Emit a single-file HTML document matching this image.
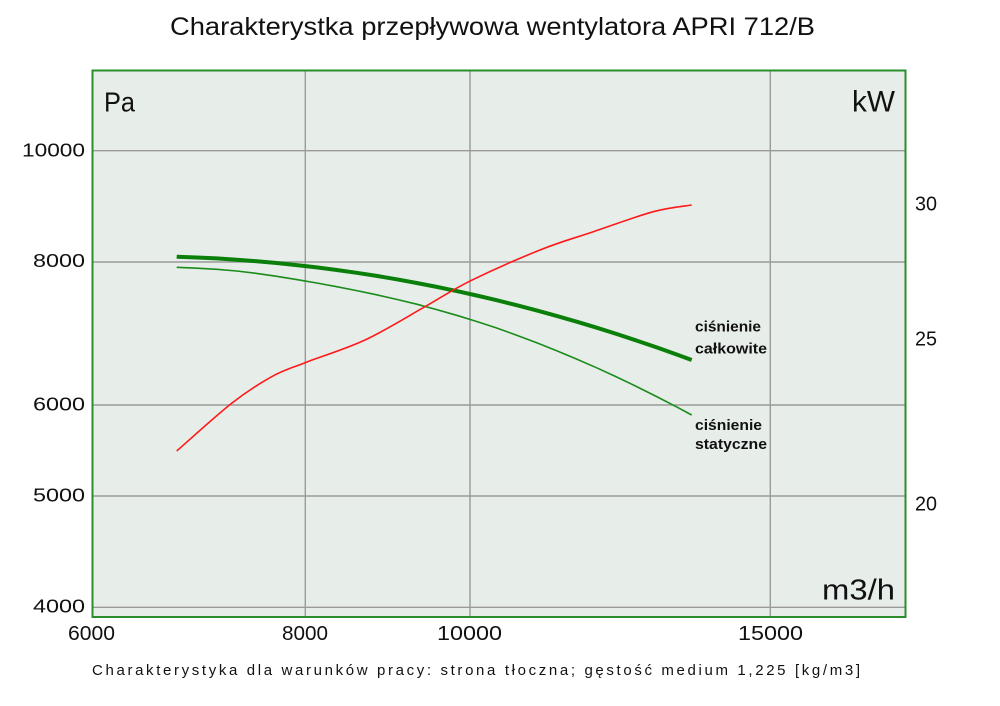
<!DOCTYPE html>
<html><head><meta charset="utf-8"><style>
html,body{margin:0;padding:0;background:#fff;}
svg{display:block;}
text{font-family:"Liberation Sans",sans-serif;fill:#111;}
</style></head><body>
<svg width="1000" height="706" viewBox="0 0 1000 706" xmlns="http://www.w3.org/2000/svg">
<rect x="0" y="0" width="1000" height="706" fill="#ffffff"/>
<text x="170" y="35" font-size="25" textLength="645" lengthAdjust="spacingAndGlyphs">Charakterystka przepływowa wentylatora APRI 712/B</text>
<rect x="92.5" y="70.5" width="813" height="546.5" fill="#e7ede9"/>
<g stroke="#9a9a9a" stroke-width="1.4" fill="none">
<line x1="93" y1="150.7" x2="905" y2="150.7"/>
<line x1="93" y1="262" x2="905" y2="262"/>
<line x1="93" y1="405" x2="905" y2="405"/>
<line x1="93" y1="496" x2="905" y2="496"/>
<line x1="93" y1="607.3" x2="905" y2="607.3"/>
<line x1="305.3" y1="71" x2="305.3" y2="617"/>
<line x1="470" y1="71" x2="470" y2="617"/>
<line x1="770.3" y1="71" x2="770.3" y2="617"/>
</g>
<rect x="92.5" y="70.5" width="813" height="546.5" fill="none" stroke="#2a8f2a" stroke-width="2"/>
<g font-size="18.5" text-anchor="end">
<text x="85" y="156.7" textLength="63" lengthAdjust="spacingAndGlyphs">10000</text>
<text x="85" y="267" textLength="52" lengthAdjust="spacingAndGlyphs">8000</text>
<text x="85" y="410.7" textLength="52" lengthAdjust="spacingAndGlyphs">6000</text>
<text x="85" y="501.7" textLength="52" lengthAdjust="spacingAndGlyphs">5000</text>
<text x="85" y="612.7" textLength="52" lengthAdjust="spacingAndGlyphs">4000</text>
</g>
<g font-size="20">
<text x="915" y="210.7" textLength="22" lengthAdjust="spacingAndGlyphs">30</text>
<text x="915" y="345.5" textLength="22" lengthAdjust="spacingAndGlyphs">25</text>
<text x="915" y="510.5" textLength="22" lengthAdjust="spacingAndGlyphs">20</text>
</g>
<g font-size="20.5">
<text x="68" y="640" textLength="47" lengthAdjust="spacingAndGlyphs">6000</text>
<text x="282" y="640" textLength="46" lengthAdjust="spacingAndGlyphs">8000</text>
<text x="437" y="640" textLength="65" lengthAdjust="spacingAndGlyphs">10000</text>
<text x="738" y="640" textLength="65" lengthAdjust="spacingAndGlyphs">15000</text>
</g>
<text x="104" y="111.7" font-size="28" textLength="31" lengthAdjust="spacingAndGlyphs">Pa</text>
<text x="852" y="111.7" font-size="30" textLength="43" lengthAdjust="spacingAndGlyphs">kW</text>
<text x="822" y="599.3" font-size="29" textLength="73" lengthAdjust="spacingAndGlyphs">m3/h</text>
<text x="92" y="675" font-size="15" textLength="768" lengthAdjust="spacing">Charakterystyka dla warunków pracy: strona tłoczna; gęstość medium 1,225 [kg/m3]</text>
<g fill="none" stroke-linejoin="round" stroke-linecap="butt">
<polyline stroke="#0a7f0a" stroke-width="4" points="176.7,256.7 196.7,257.5 216.7,258.4 236.7,259.7 256.7,261.2 276.7,263.0 296.7,265.1 316.7,267.4 336.7,270.0 356.7,272.8 376.7,275.9 396.7,279.3 416.7,283.0 436.7,286.9 456.7,291.1 476.7,295.5 496.7,300.2 516.7,305.2 536.7,310.4 556.7,315.9 576.7,321.7 596.7,327.7 616.7,334.0 636.7,340.6 656.7,347.4 676.7,354.5 691.7,360"/>
<polyline stroke="#1a8c1a" stroke-width="1.6" points="176.7,267.3 196.7,268.2 216.7,269.3 236.7,271.0 256.7,273.4 276.7,276.3 296.7,279.6 316.7,283.0 336.7,286.7 356.7,290.6 376.7,294.8 396.7,299.4 416.7,304.2 436.7,309.6 456.7,315.3 476.7,321.5 496.7,328.0 516.7,335.2 536.7,342.7 556.7,350.7 576.7,359.1 596.7,367.8 616.7,377.0 636.7,386.6 656.7,396.6 676.7,406.9 691.7,415"/>
<path stroke="#ff1a1a" stroke-width="1.6" d="M176.7,451 C185.9,443.1 215.9,415.7 231.7,403.3 C247.5,390.9 259.5,383.5 271.7,376.7 C283.9,369.9 289.5,368.8 305,362.7 C320.6,356.6 345,349.3 365,340 C385,330.7 407.4,316.6 425,306.7 C442.6,296.8 451.5,290.2 470.7,280.7 C489.9,271.3 519.6,258.2 540,250 C560.4,241.8 574.4,238.1 593.3,231.7 C612.2,225.3 636.9,216.2 653.3,211.7 C669.7,207.3 685.3,206.1 691.7,205"/>
</g>
<g font-size="14.5" font-weight="bold" fill="#111">
<text x="695" y="331.7" textLength="66" lengthAdjust="spacingAndGlyphs">ciśnienie</text>
<text x="695" y="353.3" textLength="72" lengthAdjust="spacingAndGlyphs">całkowite</text>
<text x="695" y="430" textLength="67" lengthAdjust="spacingAndGlyphs">ciśnienie</text>
<text x="695" y="449" textLength="72" lengthAdjust="spacingAndGlyphs">statyczne</text>
</g>
</svg>
</body></html>
